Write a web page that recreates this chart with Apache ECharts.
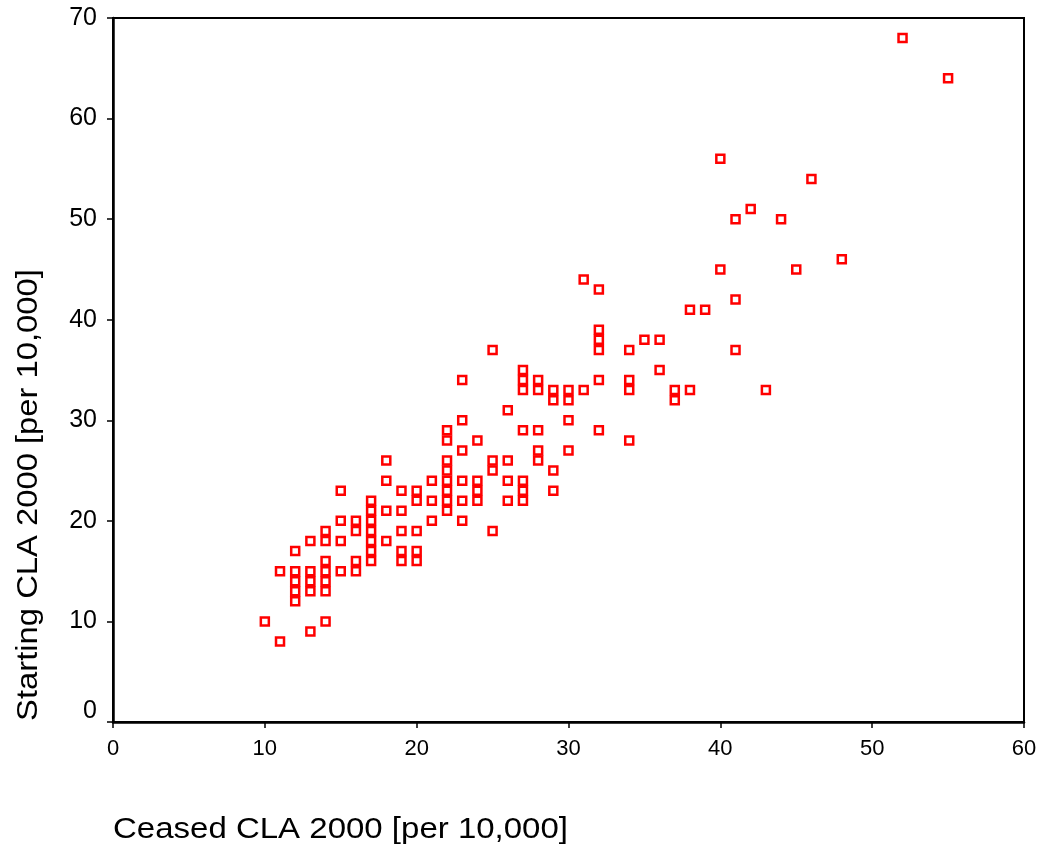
<!DOCTYPE html>
<html lang="en">
<head>
    <meta charset="UTF-8">
    <title>Starting vs ceased CLA 2000</title>
    <style>
        * {
            margin: 0;
            padding: 0;
        }

        .main {
            width: 1042px;
            height: 845px;
            background: #fff;
        }
    </style>
</head>
<body>
<div id="main" class="main"></div>
<script src="https://cdn.jsdelivr.net/npm/echarts@6/dist/echarts.min.js"></script>
<script>
    // ceased (x) and starting (y) CLA per 10,000, one entry per point
    var ceased = [
        10,
        11, 11,
        12, 12, 12, 12, 12,
        13, 13, 13, 13, 13,
        14, 14, 14, 14, 14, 14, 14,
        15, 15, 15, 15,
        16, 16, 16, 16,
        17, 17, 17, 17, 17, 17, 17,
        18, 18, 18, 18,
        19, 19, 19, 19, 19,
        20, 20, 20, 20, 20,
        21, 21, 21,
        22, 22, 22, 22, 22, 22, 22, 22,
        23, 23, 23, 23, 23, 23,
        24, 24, 24, 24,
        25, 25, 25, 25,
        26, 26, 26, 26,
        27, 27, 27, 27, 27, 27, 27,
        28, 28, 28, 28, 28,
        29, 29, 29, 29,
        30, 30, 30, 30,
        31, 31,
        32, 32, 32, 32, 32, 32,
        34, 34, 34, 34,
        35,
        36, 36,
        37, 37,
        38, 38,
        39,
        40, 40,
        41, 41, 41,
        42, 43, 44, 45, 46, 48, 52, 55
    ];
    var starting = [
        10,
        15, 8,
        17, 15, 14, 13, 12,
        18, 15, 14, 13, 9,
        19, 18, 16, 15, 14, 13, 10,
        23, 20, 18, 15,
        20, 19, 16, 15,
        22, 21, 20, 19, 18, 17, 16,
        26, 24, 21, 18,
        23, 21, 19, 17, 16,
        23, 22, 19, 17, 16,
        24, 22, 20,
        29, 28, 26, 25, 24, 23, 22, 21,
        34, 30, 27, 24, 22, 20,
        28, 24, 23, 22,
        37, 26, 25, 19,
        31, 26, 24, 22,
        35, 34, 33, 29, 24, 23, 22,
        34, 33, 29, 27, 26,
        33, 32, 25, 23,
        33, 32, 30, 27,
        44, 33,
        43, 39, 38, 37, 34, 29,
        37, 34, 33, 28,
        38,
        38, 35,
        33, 32,
        41, 33,
        41,
        56, 45,
        50, 42, 37,
        51, 33, 50, 45, 54, 46, 68, 64
    ];
    var xTicks = [0, 10, 20, 30, 40, 50, 60];
    var yTicks = [0, 10, 20, 30, 40, 50, 60, 70];

    var points = ceased.map(function (c, i) {
        return [c, starting[i]];
    });

    var myChart = echarts.init(document.getElementById('main'), null, {renderer: 'canvas'});

    var font = '"Liberation Sans", Arial, sans-serif';

    myChart.setOption({
        backgroundColor: '#fff',
        animation: false,
        grid: {
            left: 113,
            top: 18,
            right: 18,
            bottom: 123,
            show: true,
            borderColor: '#000',
            borderWidth: 2
        },
        xAxis: {
            type: 'value',
            min: xTicks[0],
            max: xTicks[xTicks.length - 1],
            interval: 10,
            splitLine: {show: false},
            axisLine: {lineStyle: {color: '#000', width: 2.5}},
            axisTick: {lineStyle: {color: '#000', width: 1.5}, length: 6},
            axisLabel: {color: '#000', fontSize: 22, fontFamily: font, margin: 16}
        },
        yAxis: {
            type: 'value',
            min: yTicks[0],
            max: yTicks[yTicks.length - 1],
            interval: 10,
            splitLine: {show: false},
            axisLine: {lineStyle: {color: '#000', width: 2.5}},
            axisTick: {lineStyle: {color: '#000', width: 1.5}, length: 6},
            axisLabel: {
                color: '#000', fontSize: 25, fontFamily: font, margin: 16,
                formatter: function (v) {
                    // the zero label sits a little above its tick
                    return v === 0 ? '{z|0}' : String(v);
                },
                rich: {
                    z: {fontSize: 25, fontFamily: font, color: '#000', padding: [0, 0, 22, 0]}
                }
            }
        },
        graphic: [
            {
                type: 'text',
                x: 113,
                y: 815,
                scaleX: 1.1,
                style: {
                    text: 'Ceased CLA 2000 [per 10,000]',
                    fontSize: 30,
                    fontFamily: font,
                    fill: '#000'
                }
            },
            {
                type: 'text',
                x: 29,
                y: 495,
                rotation: Math.PI / 2,
                scaleX: 1.13,
                style: {
                    text: 'Starting CLA 2000 [per 10,000]',
                    fontSize: 29,
                    fontFamily: font,
                    fill: '#000',
                    align: 'center',
                    verticalAlign: 'middle'
                }
            }
        ],
        series: [{
            type: 'scatter',
            data: points,
            symbol: 'rect',
            symbolSize: 8,
            itemStyle: {
                color: '#fff',
                borderColor: '#ff0000',
                borderWidth: 2.5,
                opacity: 1
            }
        }]
    });
</script>
</body>
</html>
